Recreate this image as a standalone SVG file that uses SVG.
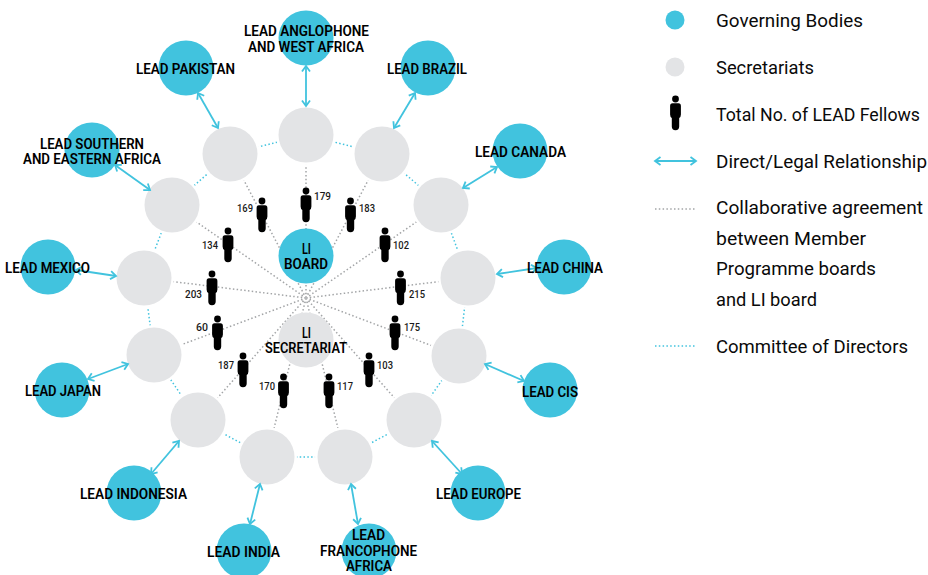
<svg xmlns="http://www.w3.org/2000/svg" width="928" height="575" viewBox="0 0 928 575">
<style>
.blue{fill:#41c3de}.sec{fill:#e3e4e6}
.ring{fill:#e3e4e6;stroke:#fff;stroke-width:5;paint-order:stroke}
text{font-family:Roboto,"Noto Sans",sans-serif;fill:#0a0a0a}
.l{font-size:14.5px;font-weight:600;fill:#000}
.n{font-size:11px;font-weight:500;fill:#1a1a1a}
.t{font-size:18.8px;font-weight:400}
.g{stroke:#a3a5a7;stroke-width:1.5;stroke-dasharray:1.5 2.3;fill:none}
.g2{stroke:#a3a5a7;stroke-width:1;stroke-dasharray:1 1.2;fill:none}
.c{stroke:#41c3de;stroke-width:1.5;stroke-dasharray:1.5 2.3;fill:none}
.a{stroke:#41c3de;stroke-width:1.8;fill:none;marker-start:url(#h);marker-end:url(#h)}
</style>
<defs>
<marker id="h" viewBox="-8 -5 10 10" markerWidth="10" markerHeight="10" markerUnits="userSpaceOnUse" refX="0" refY="0" orient="auto-start-reverse"><path d="M-5.5 -4L0 0L-5.5 4" fill="none" stroke="#41c3de" stroke-width="1.8"/></marker>
<g id="p"><circle cx="0" cy="0" r="3.4" fill="#000"/><path fill="#000" d="M-3 4.2H3Q5.4 4.2 5.4 7V15.5Q5.4 18 3.7 19V27.5A3.7 3.7 0 0 1 -3.7 27.5V19Q-5.4 18 -5.4 15.5V7Q-5.4 4.2 -3 4.2Z"/></g>
</defs>
<rect width="928" height="575" fill="#fff"/>
<g id="connectors">
<path class="g" d="M306 298L306 135M306 298L382 154M306 298L441 205M306 298L468 278M306 298L459 356M306 298L414 420M306 298L345 457M306 298L267 457M306 298L198 420M306 298L154 355M306 298L144 278M306 298L172 205M306 298L230 154"/>
<circle class="g2" cx="306" cy="298" r="4.5"/><circle cx="306" cy="298" r="1.5" fill="#b5b7b9"/>
<path class="c" d="M306 135L382 154L441 205L468 278L459 356L414 420L345 457L267 457L198 420L154 355L144 278L172 205L230 154Z"/>
</g>
<g id="secretariats">
<circle class="ring" cx="306" cy="135" r="27.5"/><circle class="ring" cx="382" cy="154" r="27.5"/><circle class="ring" cx="441" cy="205" r="27.5"/><circle class="ring" cx="468" cy="278" r="27.5"/><circle class="ring" cx="459" cy="356" r="27.5"/><circle class="ring" cx="414" cy="420" r="27.5"/><circle class="ring" cx="345" cy="457" r="27.5"/><circle class="ring" cx="267" cy="457" r="27.5"/><circle class="ring" cx="198" cy="420" r="27.5"/><circle class="ring" cx="154" cy="355" r="27.5"/><circle class="ring" cx="144" cy="278" r="27.5"/><circle class="ring" cx="172" cy="205" r="27.5"/><circle class="ring" cx="230" cy="154" r="27.5"/>
</g>
<g id="relationships">
<path class="a" d="M306 66V106"/><path class="a" d="M198 93L218 128"/><path class="a" d="M415 93L394 128"/><path class="a" d="M497 167L463 188"/><path class="a" d="M537 268L497 274"/><path class="a" d="M524 381L485 364"/><path class="a" d="M462 474L432 441"/><path class="a" d="M358 524L351 484"/><path class="a" d="M250 524L260 484"/><path class="a" d="M151 474L179 441"/><path class="a" d="M88 379L128 364"/><path class="a" d="M76 270L116 276"/><path class="a" d="M115 165L150 190"/>
</g>
<g id="li-board"><circle class="blue" cx="306" cy="256" r="27.5"/><text class="l" x="302" y="254" textLength="9" lengthAdjust="spacingAndGlyphs">LI</text><text class="l" x="284" y="269" textLength="44" lengthAdjust="spacingAndGlyphs">BOARD</text></g>
<g id="li-secretariat"><circle class="sec" cx="306" cy="340" r="27.5"/><text class="l" x="302" y="338" textLength="9" lengthAdjust="spacingAndGlyphs">LI</text><text class="l" x="265" y="353" textLength="82" lengthAdjust="spacingAndGlyphs">SECRETARIAT</text></g>
<g id="lead-anglophone"><circle class="blue" cx="306" cy="38" r="27.5"/><text class="l" x="244" y="36" textLength="125" lengthAdjust="spacingAndGlyphs">LEAD ANGLOPHONE</text><text class="l" x="248" y="52" textLength="116" lengthAdjust="spacingAndGlyphs">AND WEST AFRICA</text></g>
<g id="lead-brazil"><circle class="blue" cx="428" cy="68" r="27.5"/><text class="l" x="387" y="74" textLength="80" lengthAdjust="spacingAndGlyphs">LEAD BRAZIL</text></g>
<g id="lead-canada"><circle class="blue" cx="520" cy="151" r="27.5"/><text class="l" x="475" y="157" textLength="91" lengthAdjust="spacingAndGlyphs">LEAD CANADA</text></g>
<g id="lead-china"><circle class="blue" cx="564" cy="267" r="27.5"/><text class="l" x="527" y="273" textLength="76" lengthAdjust="spacingAndGlyphs">LEAD CHINA</text></g>
<g id="lead-cis"><circle class="blue" cx="550" cy="390" r="27.5"/><text class="l" x="522" y="397" textLength="56" lengthAdjust="spacingAndGlyphs">LEAD CIS</text></g>
<g id="lead-europe"><circle class="blue" cx="478" cy="493" r="27.5"/><text class="l" x="436" y="499" textLength="85" lengthAdjust="spacingAndGlyphs">LEAD EUROPE</text></g>
<g id="lead-francophone"><circle class="blue" cx="369" cy="551" r="27.5"/><text class="l" x="352" y="540" textLength="33" lengthAdjust="spacingAndGlyphs">LEAD</text><text class="l" x="320" y="556" textLength="97" lengthAdjust="spacingAndGlyphs">FRANCOPHONE</text><text class="l" x="346" y="571" textLength="46" lengthAdjust="spacingAndGlyphs">AFRICA</text></g>
<g id="lead-india"><circle class="blue" cx="244" cy="551" r="27.5"/><text class="l" x="207" y="557" textLength="73" lengthAdjust="spacingAndGlyphs">LEAD INDIA</text></g>
<g id="lead-indonesia"><circle class="blue" cx="134" cy="493" r="27.5"/><text class="l" x="80" y="499" textLength="107" lengthAdjust="spacingAndGlyphs">LEAD INDONESIA</text></g>
<g id="lead-japan"><circle class="blue" cx="62" cy="390" r="27.5"/><text class="l" x="25" y="396" textLength="76" lengthAdjust="spacingAndGlyphs">LEAD JAPAN</text></g>
<g id="lead-mexico"><circle class="blue" cx="48" cy="267" r="27.5"/><text class="l" x="5" y="273" textLength="85" lengthAdjust="spacingAndGlyphs">LEAD MEXICO</text></g>
<g id="lead-southern"><circle class="blue" cx="92" cy="150" r="27.5"/><text class="l" x="40" y="149" textLength="104" lengthAdjust="spacingAndGlyphs">LEAD SOUTHERN</text><text class="l" x="23" y="164" textLength="138" lengthAdjust="spacingAndGlyphs">AND EASTERN AFRICA</text></g>
<g id="lead-pakistan"><circle class="blue" cx="186" cy="68" r="27.5"/><text class="l" x="136" y="74" textLength="99" lengthAdjust="spacingAndGlyphs">LEAD PAKISTAN</text></g>
<g id="fellows">
<use href="#p" x="306" y="191"/><text class="n" x="314" y="200" textLength="17" lengthAdjust="spacingAndGlyphs">179</text>
<use href="#p" x="262" y="201"/><text class="n" x="237" y="212" textLength="16" lengthAdjust="spacingAndGlyphs">169</text>
<use href="#p" x="350.500" y="201"/><text class="n" x="359" y="212" textLength="16" lengthAdjust="spacingAndGlyphs">183</text>
<use href="#p" x="228" y="231"/><text class="n" x="202" y="249" textLength="16" lengthAdjust="spacingAndGlyphs">134</text>
<use href="#p" x="385" y="231"/><text class="n" x="393" y="249" textLength="16" lengthAdjust="spacingAndGlyphs">102</text>
<use href="#p" x="212" y="274"/><text class="n" x="185" y="298" textLength="17" lengthAdjust="spacingAndGlyphs">203</text>
<use href="#p" x="400.500" y="274"/><text class="n" x="409" y="298" textLength="16" lengthAdjust="spacingAndGlyphs">215</text>
<use href="#p" x="217.500" y="319"/><text class="n" x="196" y="331" textLength="12" lengthAdjust="spacingAndGlyphs">60</text>
<use href="#p" x="395" y="319"/><text class="n" x="404" y="331" textLength="16" lengthAdjust="spacingAndGlyphs">175</text>
<use href="#p" x="243" y="356"/><text class="n" x="218" y="369" textLength="16" lengthAdjust="spacingAndGlyphs">187</text>
<use href="#p" x="369" y="356"/><text class="n" x="377" y="369" textLength="16" lengthAdjust="spacingAndGlyphs">103</text>
<use href="#p" x="283.500" y="377"/><text class="n" x="259" y="390" textLength="16" lengthAdjust="spacingAndGlyphs">170</text>
<use href="#p" x="329" y="377"/><text class="n" x="337" y="390" textLength="16" lengthAdjust="spacingAndGlyphs">117</text>
</g>
<g id="legend">
<circle class="blue" cx="675" cy="20" r="9.5"/><text class="t" x="716" y="27" textLength="147" lengthAdjust="spacingAndGlyphs">Governing Bodies</text>
<circle class="sec" cx="675" cy="67" r="9.5"/><text class="t" x="716" y="74" textLength="98" lengthAdjust="spacingAndGlyphs">Secretariats</text>
<use href="#p" x="675.500" y="99"/><text class="t" x="716" y="121" textLength="204" lengthAdjust="spacingAndGlyphs">Total No. of LEAD Fellows</text>
<path class="a" d="M655 161H696"/><text class="t" x="716" y="168" textLength="211" lengthAdjust="spacingAndGlyphs">Direct/Legal Relationship</text>
<path class="g" d="M655 209H696"/>
<text class="t" x="716" y="214" textLength="207" lengthAdjust="spacingAndGlyphs">Collaborative agreement</text>
<text class="t" x="716" y="245" textLength="150" lengthAdjust="spacingAndGlyphs">between Member</text>
<text class="t" x="716" y="275" textLength="160" lengthAdjust="spacingAndGlyphs">Programme boards</text>
<text class="t" x="716" y="306" textLength="101" lengthAdjust="spacingAndGlyphs">and LI board</text>
<path class="c" d="M655 346H696"/><text class="t" x="716" y="353" textLength="192" lengthAdjust="spacingAndGlyphs">Committee of Directors</text>
</g>
</svg>
